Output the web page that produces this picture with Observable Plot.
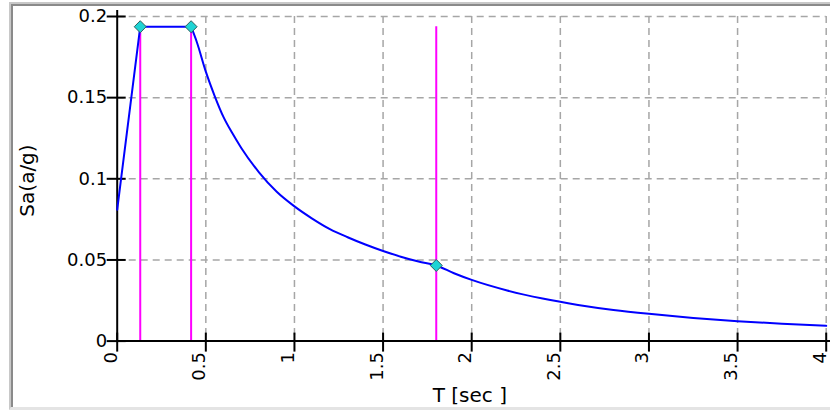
<!DOCTYPE html>
<html><head><meta charset="utf-8">
<script src="https://cdn.jsdelivr.net/npm/d3@7"></script>
<script src="https://cdn.jsdelivr.net/npm/@observablehq/plot@0.6"></script>
<style>
html,body{margin:0;padding:0;background:#fff;}
#wrap{position:relative;width:830px;height:412px;overflow:hidden;background:#fff;}
#frame{position:absolute;left:9px;top:2px;width:840px;height:403px;border-left:2px solid #c8c8c8;border-top:2px solid #c8c8c8;border-bottom:3px solid #e4e4e4;}
#frame2{position:absolute;left:0;top:0;right:0;bottom:0;border-left:2px solid #8a8a8a;border-top:2px solid #8a8a8a;}
#chart{position:absolute;left:0;top:0;}
</style></head>
<body>
<div id="wrap"><div id="frame"><div id="frame2"></div></div><div id="chart"></div></div>
<script>
// Spectrum values
const periods = [0, 0.13, 0.417, 0.45, 0.5, 0.55, 0.6, 0.65, 0.7, 0.8, 0.9, 1.0, 1.1, 1.2, 1.3, 1.4, 1.5, 1.6, 1.7, 1.8, 1.9, 2.0, 2.2, 2.4, 2.6, 2.8, 3.0, 3.25, 3.5, 3.75, 4.0];
const spectralAcc = [0.081, 0.1937, 0.1937, 0.184, 0.166, 0.151, 0.138, 0.128, 0.119, 0.104, 0.092, 0.083, 0.0755, 0.069, 0.064, 0.0595, 0.0555, 0.052, 0.049, 0.0466, 0.0418, 0.0377, 0.0312, 0.0262, 0.0223, 0.0192, 0.0168, 0.0143, 0.0123, 0.0107, 0.0094];
// Corner periods (markers and magenta lines)
const cornerT = [0.13, 0.417, 1.8];
const cornerSa = [0.1937, 0.1937, 0.0466];
// Ticks
const xTicks = [0, 0.5, 1, 1.5, 2, 2.5, 3, 3.5, 4];
const xTickLabels = ["0", "0.5", "1", "1.5", "2", "2.5", "3", "3.5", "4"];
const yTicks = [0, 0.05, 0.1, 0.15, 0.2];
const yTickLabels = ["0", "0.05", "0.1", "0.15", "0.2"];
const xTitle = "T [sec ]";
const yTitle = "Sa(a/g)";

const curve = periods.map((t, i) => ({t, sa: spectralAcc[i]}));
const rise = curve.filter(d => d.t <= cornerT[1]);
const decay = curve.filter(d => d.t >= cornerT[1]);
const corners = cornerT.map((t, i) => ({t, sa: cornerSa[i]}));
const magentaTop = d3.max(cornerSa);
const xTickData = xTicks.map((v, i) => ({v, label: xTickLabels[i]}));
const yTickData = yTicks.map((v, i) => ({v, label: yTickLabels[i]}));

const gridStyle = {stroke: "#a6a6a6", strokeWidth: 1.5, strokeDasharray: "7,5"};

const chart = Plot.plot({
  width: 830, height: 412,
  marginLeft: 116.7, marginRight: 4.3, marginTop: 16, marginBottom: 71.4,
  x: {domain: [0, 4], axis: null},
  y: {domain: [0, 0.2], axis: null},
  style: {fontFamily: "'DejaVu Sans'", fontSize: "18px", background: "transparent", overflow: "visible", color: "#000"},
  marks: [
    Plot.ruleX(xTicks.filter(d => d > 0), gridStyle),
    Plot.ruleY(yTicks.filter(d => d > 0), gridStyle),
    Plot.ruleX(corners, {x: "t", y1: 0, y2: magentaTop, stroke: "#ff00ff", strokeWidth: 2}),
    // axes
    Plot.ruleY([0], {stroke: "#000", strokeWidth: 2, insetRight: -5}),
    Plot.ruleX([0], {stroke: "#000", strokeWidth: 2, insetTop: -6}),
    Plot.ruleX(xTicks, {x: d => d, y1: 0, y2: 0, insetTop: -8, insetBottom: -11, stroke: "#000", strokeWidth: 2}),
    Plot.ruleY(yTicks, {y: d => d, x1: 0, x2: 0, insetLeft: -10, insetRight: -9, stroke: "#000", strokeWidth: 2}),
    // curve
    Plot.line(rise, {x: "t", y: "sa", stroke: "#0000ff", strokeWidth: 2}),
    Plot.line(decay, {x: "t", y: "sa", stroke: "#0000ff", strokeWidth: 2, curve: "monotone-x"}),
    Plot.dot(corners, {x: "t", y: "sa", symbol: "diamond2", r: 5.4, fill: "#1ed4d4", stroke: "#2e5e5e", strokeWidth: 1}),
    // tick labels
    Plot.text(yTickData, {x: 0, y: "v", text: "label", textAnchor: "end", lineAnchor: "middle", dx: -10, fill: "#000"}),
    Plot.text(xTickData, {x: "v", y: 0, text: "label", rotate: -90, textAnchor: "end", lineAnchor: "bottom", dx: -0.5, dy: 11, fill: "#000"}),
    // titles
    Plot.text([yTitle], {frameAnchor: "left", text: d => d, rotate: -90, textAnchor: "middle", lineAnchor: "bottom", dx: -83.4, dy: 1.7, fontSize: 20, fill: "#000"}),
    Plot.text([xTitle], {frameAnchor: "bottom-left", text: d => d, textAnchor: "start", lineAnchor: "bottom", dx: 315.5, dy: 61, fontSize: 20, fill: "#000"})
  ]
});
document.getElementById("chart").appendChild(chart);
</script>
</body></html>
